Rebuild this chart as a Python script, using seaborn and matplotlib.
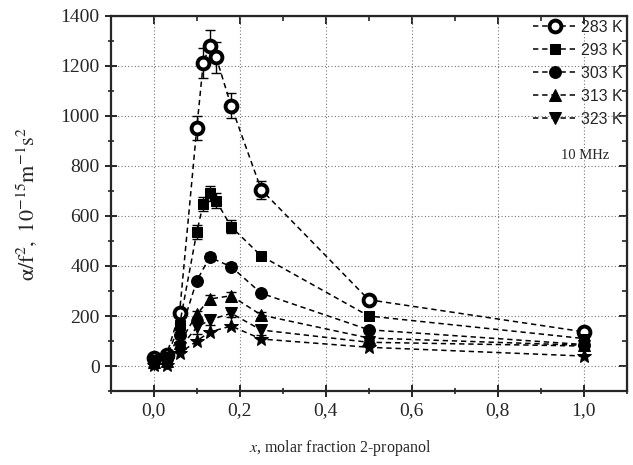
import numpy as np
import pandas as pd
import matplotlib
matplotlib.use('Agg')
import matplotlib.pyplot as plt
import seaborn as sns
from matplotlib.ticker import MultipleLocator, FuncFormatter

# Données (x = fraction molaire de 2-propanol)
x_fine = [0.0, 0.03, 0.06, 0.10, 0.115, 0.13, 0.145, 0.18, 0.25, 0.5, 1.0]
x_main = [0.0, 0.03, 0.06, 0.10, 0.13, 0.18, 0.25, 0.5, 1.0]

y_283 = [31, 45, 213, 950, 1210, 1280, 1235, 1040, 705, 265, 137]
e_283 = [8, 8, 12, 48, 60, 62, 62, 50, 36, 15, 10]
y_293 = [25, 36, 165, 535, 648, 690, 661, 557, 440, 200, 110]
e_293 = [6, 6, 10, 27, 27, 30, 30, 27, 17, 10, 8]
y_303 = [20, 28, 124, 341, 435, 397, 291, 145, 86]
e_303 = [5, 5, 8, 12, 15, 13, 10, 8, 6]
y_313 = [15, 20, 91, 207, 268, 281, 204, 112, 83]
e_313 = [4, 4, 8, 12, 15, 14, 12, 8, 6]
y_323 = [10, 12, 71, 155, 184, 211, 144, 95, 80]
e_323 = [3, 3, 8, 25, 20, 15, 18, 10, 6]
y_star = [5, 5, 51, 100, 136, 160, 108, 75, 40]

labels = ['283 K', '293 K', '303 K', '313 K', '323 K']

sns.set_style('ticks')
plt.rcParams['font.family'] = ['Liberation Serif', 'DejaVu Serif']
plt.rcParams['mathtext.fontset'] = 'stix'

fig = plt.figure(figsize=(6.33, 4.65), dpi=100)
ax = fig.add_axes([0.175, 0.159, 0.815, 0.807])

series = [
    (x_fine, y_283, e_283, labels[0], dict(marker='o', markersize=8.5, markerfacecolor='white', markeredgewidth=2.8)),
    (x_fine, y_293, e_293, labels[1], dict(marker='s', markersize=7.5)),
    (x_main, y_303, e_303, labels[2], dict(marker='o', markersize=8.5)),
    (x_main, y_313, e_313, labels[3], dict(marker='^', markersize=8.5)),
    (x_main, y_323, e_323, labels[4], dict(marker='v', markersize=8.5)),
    (x_main, y_star, None, None, dict(marker='*', markersize=10)),
]

for xs, ys, es, lab, mk in series:
    if es is not None:
        ax.errorbar(xs, ys, yerr=es, fmt='none', ecolor='black', elinewidth=1.0,
                    capsize=3.5, capthick=1.0, zorder=2)
    df = pd.DataFrame({'x': xs, 'y': ys})
    sns.lineplot(data=df, x='x', y='y', ax=ax, color='black', linestyle=(0, (3.5, 2.5)),
                 linewidth=1.1, markeredgecolor='black', label=lab, zorder=3, **mk)

ax.set_xlim(-0.1, 1.1)
ax.set_ylim(-100, 1400)
ax.xaxis.set_major_locator(MultipleLocator(0.2))
ax.xaxis.set_minor_locator(MultipleLocator(0.1))
ax.yaxis.set_major_locator(MultipleLocator(200))
ax.yaxis.set_minor_locator(MultipleLocator(100))
ax.xaxis.set_major_formatter(FuncFormatter(lambda v, p: f'{v:.1f}'.replace('.', ',')))
ax.yaxis.set_major_formatter(FuncFormatter(lambda v, p: f'{v:.0f}'))
ax.grid(True, which='major', linestyle=(0, (1, 2)), color='#777777', linewidth=0.8)

for sp in ax.spines.values():
    sp.set_linewidth(1.6)
    sp.set_visible(True)
ax.tick_params(which='major', direction='inout', length=9, width=1.4, labelsize=14)
ax.tick_params(which='minor', direction='inout', length=5, width=1.2)

top = ax.secondary_xaxis('top')
top.xaxis.set_major_locator(MultipleLocator(0.2))
top.xaxis.set_minor_locator(MultipleLocator(0.1))
top.tick_params(which='major', direction='in', length=6, width=1.4, labeltop=False)
top.tick_params(which='minor', direction='in', length=3.5, width=1.2)
right = ax.secondary_yaxis('right')
right.yaxis.set_major_locator(MultipleLocator(200))
right.yaxis.set_minor_locator(MultipleLocator(100))
right.tick_params(which='major', direction='in', length=6, width=1.4, labelright=False)
right.tick_params(which='minor', direction='in', length=3.5, width=1.2)

ax.set_xlabel(r'$x$, molar fraction 2-propanol', fontsize=11.5)
ax.xaxis.set_label_coords(0.444, -0.125)
ax.set_ylabel(r'$\mathrm{\alpha/f^2,\ 10^{-15}m^{-1}s^2}$', fontsize=16)
ax.yaxis.set_label_coords(-0.14, 0.5)

leg = ax.legend(loc='upper right', bbox_to_anchor=(1.0, 1.0), frameon=False,
                prop={'family': 'Liberation Sans', 'size': 11.5}, handlelength=2.7,
                handletextpad=0.3, labelspacing=0.5, borderaxespad=0.1, borderpad=0.15)
ax.text(0.967, 0.627, '10 MHz', transform=ax.transAxes, ha='right', va='center', fontsize=10.5)

fig.savefig('out.png', dpi=100)
